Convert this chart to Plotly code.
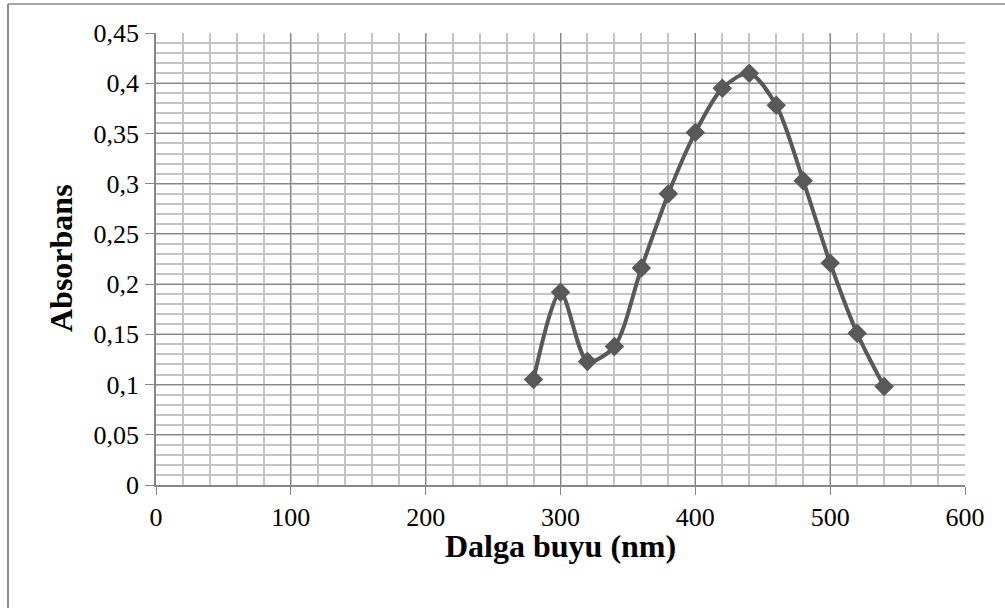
import plotly.graph_objects as go

wavelength = [280, 300, 320, 340, 360, 380, 400, 420, 440, 460, 480, 500, 520, 540]
absorbance = [0.105, 0.192, 0.123, 0.138, 0.216, 0.290, 0.351, 0.395, 0.410, 0.378, 0.303, 0.221, 0.151, 0.098]

x_ticks = [0, 100, 200, 300, 400, 500, 600]
y_ticks = [0, 0.05, 0.1, 0.15, 0.2, 0.25, 0.3, 0.35, 0.4, 0.45]
y_tick_labels = ["0", "0,05", "0,1", "0,15", "0,2", "0,25", "0,3", "0,35", "0,4", "0,45"]
x_title = "Dalga buyu (nm)"
y_title = "Absorbans"

W, H = 1005, 608
L, R, T, B = 156, 40, 33, 123
pw, ph = W - L - R, H - T - B

fig = go.Figure()
fig.add_trace(go.Scatter(
    x=wavelength, y=absorbance, mode="lines+markers",
    line=dict(color="#595959", width=4, shape="spline", smoothing=0.8),
    marker=dict(symbol="diamond", size=15, color="#595959"),
    showlegend=False,
))

font = "Liberation Serif, Times New Roman, serif"
fig.update_layout(
    width=W, height=H,
    margin=dict(l=L, r=R, t=T, b=B),
    paper_bgcolor="white", plot_bgcolor="white",
    font=dict(family=font, size=26, color="black"),
    xaxis=dict(
        range=[0, 600], tickvals=x_ticks, ticktext=[str(v) for v in x_ticks],
        showgrid=True, gridcolor="#878787", gridwidth=1.2,
        minor=dict(dtick=20, showgrid=True, gridcolor="#c4c4c4", gridwidth=2),
        showline=True, linecolor="#878787", linewidth=1.5,
        ticks="outside", ticklen=8, tickcolor="#878787",
        ticklabelstandoff=0,
        zeroline=False,
    ),
    yaxis=dict(
        range=[0, 0.45], tickvals=y_ticks, ticktext=y_tick_labels,
        showgrid=True, gridcolor="#878787", gridwidth=1.2,
        minor=dict(dtick=0.01, showgrid=True, gridcolor="#c4c4c4", gridwidth=2),
        showline=True, linecolor="#878787", linewidth=1.5,
        ticks="outside", ticklen=9, tickcolor="#878787",
        ticklabelstandoff=1,
        zeroline=False,
    ),
    annotations=[
        dict(text="<b>" + x_title + "</b>", xref="paper", yref="paper",
             x=(560 - L) / pw, y=(485 - 546) / ph, xanchor="center", yanchor="middle",
             showarrow=False, font=dict(size=32, family=font, color="black")),
        dict(text="<b>" + y_title + "</b>", xref="paper", yref="paper",
             x=(61 - L) / pw, y=(485 - 258) / ph, xanchor="center", yanchor="middle",
             textangle=-90, showarrow=False, font=dict(size=32, family=font, color="black")),
    ],
    shapes=[
        dict(type="line", xref="paper", yref="paper",
             x0=(8 - L) / pw, x1=(W + 5 - L) / pw,
             y0=(H - 4 - B) / ph, y1=(H - 4 - B) / ph,
             line=dict(color="#a6a6a6", width=2), layer="above"),
        dict(type="line", xref="paper", yref="paper",
             x0=(8 - L) / pw, x1=(8 - L) / pw,
             y0=(H - 4 - B) / ph, y1=-(B + 5) / ph,
             line=dict(color="#8c8c8c", width=2), layer="above"),
    ],
)

fig.write_html(
    "out.html",
    config={"displayModeBar": False},
    post_script="document.body.style.margin='0';document.body.style.overflow='hidden';",
)
